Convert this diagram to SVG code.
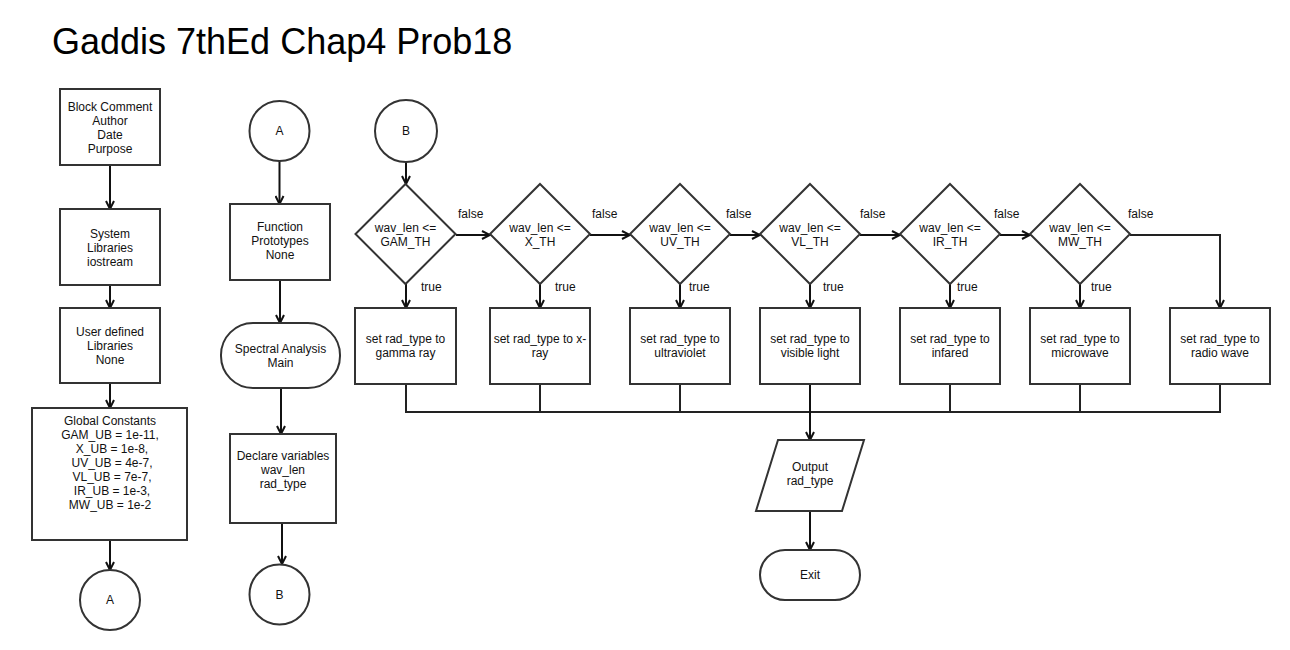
<svg xmlns="http://www.w3.org/2000/svg" width="1290" height="650" viewBox="0 0 1290 650">
<style>
.s{fill:#fff;stroke:#333;stroke-width:2}
.t{font-family:"Liberation Sans",Arial,sans-serif;font-size:12px;fill:#111;text-anchor:middle}
.l{font-family:"Liberation Sans",Arial,sans-serif;font-size:12px;fill:#111}
.c{fill:none;stroke:#111;stroke-width:2}
.m{fill:none;stroke:#222;stroke-width:2}
</style>
<defs>
<marker id="arr" viewBox="0 0 10 10" refX="9" refY="5" markerWidth="10" markerHeight="10" markerUnits="userSpaceOnUse" orient="auto">
<path d="M1,1 L9,5 L1,9" fill="none" stroke="#111" stroke-width="2"/>
</marker>
</defs>
<rect width="1290" height="650" fill="#fff"/>
<text x="52" y="54" font-family="'Liberation Sans',Arial,sans-serif" font-size="36" fill="#000">Gaddis 7thEd Chap4 Prob18</text>

<g id="connectors">
<line class="c" x1="110" y1="165" x2="110" y2="209" marker-end="url(#arr)"/>
<line class="c" x1="110" y1="285" x2="110" y2="308" marker-end="url(#arr)"/>
<line class="c" x1="110" y1="383" x2="110" y2="408" marker-end="url(#arr)"/>
<line class="c" x1="110" y1="540" x2="110" y2="570" marker-end="url(#arr)"/>
<line class="c" x1="279.5" y1="161" x2="279.5" y2="204" marker-end="url(#arr)"/>
<line class="c" x1="280" y1="280" x2="280" y2="323" marker-end="url(#arr)"/>
<line class="c" x1="281" y1="388" x2="281" y2="434" marker-end="url(#arr)"/>
<line class="c" x1="282" y1="523" x2="282" y2="564" marker-end="url(#arr)"/>
<line class="c" x1="406" y1="162" x2="406" y2="184" marker-end="url(#arr)"/>
<line class="c" x1="456" y1="235" x2="490" y2="235" marker-end="url(#arr)"/>
<line class="c" x1="590" y1="235" x2="630" y2="235" marker-end="url(#arr)"/>
<line class="c" x1="730" y1="235" x2="760" y2="235" marker-end="url(#arr)"/>
<line class="c" x1="860" y1="235" x2="900" y2="235" marker-end="url(#arr)"/>
<line class="c" x1="1000" y1="235" x2="1030" y2="235" marker-end="url(#arr)"/>
<polyline class="m" points="1130,235 1220,235 1220,308" marker-end="url(#arr)"/>
<line class="c" x1="406" y1="284" x2="406" y2="308" marker-end="url(#arr)"/>
<line class="c" x1="540" y1="284" x2="540" y2="308" marker-end="url(#arr)"/>
<line class="c" x1="680" y1="284" x2="680" y2="308" marker-end="url(#arr)"/>
<line class="c" x1="810" y1="284" x2="810" y2="308" marker-end="url(#arr)"/>
<line class="c" x1="950" y1="284" x2="950" y2="308" marker-end="url(#arr)"/>
<line class="c" x1="1080" y1="284" x2="1080" y2="308" marker-end="url(#arr)"/>
<polyline class="m" points="406,384 406,412 1220,412 1220,384"/>
<line class="m" x1="540" y1="384" x2="540" y2="412"/>
<line class="m" x1="680" y1="384" x2="680" y2="412"/>
<line class="m" x1="950" y1="384" x2="950" y2="412"/>
<line class="m" x1="1080" y1="384" x2="1080" y2="412"/>
<line class="c" x1="810" y1="384" x2="810" y2="440" marker-end="url(#arr)"/>
<line class="c" x1="810" y1="511" x2="810" y2="550" marker-end="url(#arr)"/>
</g>

<g id="block-comment"><rect class="s" x="60" y="89" width="100" height="76"/>
<text class="t" x="110" y="111">Block Comment</text><text class="t" x="110" y="125">Author</text><text class="t" x="110" y="139">Date</text><text class="t" x="110" y="153">Purpose</text></g>
<g id="system-libraries"><rect class="s" x="60" y="209" width="100" height="76"/>
<text class="t" x="110" y="238">System</text><text class="t" x="110" y="252">Libraries</text><text class="t" x="110" y="266">iostream</text></g>
<g id="user-libraries"><rect class="s" x="60" y="308" width="100" height="75"/>
<text class="t" x="110" y="336">User defined</text><text class="t" x="110" y="350">Libraries</text><text class="t" x="110" y="364">None</text></g>
<g id="global-constants"><rect class="s" x="32" y="408" width="155" height="132"/>
<text class="t" x="110" y="425">Global Constants</text>
<text class="t" x="110" y="439">GAM_UB = 1e-11,</text>
<text class="t" x="112" y="453">X_UB = 1e-8,</text>
<text class="t" x="112" y="467">UV_UB = 4e-7,</text>
<text class="t" x="112" y="481">VL_UB = 7e-7,</text>
<text class="t" x="112" y="495">IR_UB = 1e-3,</text>
<text class="t" x="110" y="509">MW_UB = 1e-2</text></g>
<g id="connector-a-out"><circle class="s" cx="110" cy="600" r="30"/><text class="t" x="110" y="604">A</text></g>

<g id="connector-a-in"><circle class="s" cx="279.5" cy="131" r="30"/><text class="t" x="279.5" y="135">A</text></g>
<g id="function-prototypes"><rect class="s" x="230" y="204" width="100" height="76"/>
<text class="t" x="280" y="231">Function</text><text class="t" x="280" y="245">Prototypes</text><text class="t" x="280" y="259">None</text></g>
<g id="main"><rect class="s" x="221" y="323" width="119" height="65" rx="32" ry="32"/>
<text class="t" x="280.5" y="353">Spectral Analysis</text><text class="t" x="280.5" y="367">Main</text></g>
<g id="declare"><rect class="s" x="230" y="434" width="106" height="89"/>
<text class="t" x="283" y="460">Declare variables</text><text class="t" x="283" y="474">wav_len</text><text class="t" x="283" y="488">rad_type</text></g>
<g id="connector-b-out"><circle class="s" cx="279.5" cy="594.5" r="30"/><text class="t" x="279.5" y="599">B</text></g>

<g id="connector-b-in"><circle class="s" cx="406" cy="131" r="31"/><text class="t" x="406" y="135">B</text></g>

<g id="dec-gam"><polygon class="s" points="405.5,184 455.5,234 405.5,284 355.5,234"/>
<text class="t" x="405.5" y="232">wav_len &lt;=</text><text class="t" x="405.5" y="246">GAM_TH</text></g>
<g id="dec-x"><polygon class="s" points="540,184 590,234 540,284 490,234"/>
<text class="t" x="540" y="232">wav_len &lt;=</text><text class="t" x="540" y="246">X_TH</text></g>
<g id="dec-uv"><polygon class="s" points="680,184 730,234 680,284 630,234"/>
<text class="t" x="680" y="232">wav_len &lt;=</text><text class="t" x="680" y="246">UV_TH</text></g>
<g id="dec-vl"><polygon class="s" points="810,184 860,234 810,284 760,234"/>
<text class="t" x="810" y="232">wav_len &lt;=</text><text class="t" x="810" y="246">VL_TH</text></g>
<g id="dec-ir"><polygon class="s" points="950,184 1000,234 950,284 900,234"/>
<text class="t" x="950" y="232">wav_len &lt;=</text><text class="t" x="950" y="246">IR_TH</text></g>
<g id="dec-mw"><polygon class="s" points="1080,184 1130,234 1080,284 1030,234"/>
<text class="t" x="1080" y="232">wav_len &lt;=</text><text class="t" x="1080" y="246">MW_TH</text></g>

<g id="labels">
<text class="l" x="458" y="218">false</text>
<text class="l" x="592" y="218">false</text>
<text class="l" x="726" y="218">false</text>
<text class="l" x="860" y="218">false</text>
<text class="l" x="994" y="218">false</text>
<text class="l" x="1128" y="218">false</text>
<text class="l" x="421" y="291">true</text>
<text class="l" x="555" y="291">true</text>
<text class="l" x="689" y="291">true</text>
<text class="l" x="823" y="291">true</text>
<text class="l" x="957" y="291">true</text>
<text class="l" x="1091" y="291">true</text>
</g>

<g id="set-gamma"><rect class="s" x="355" y="308" width="101" height="76"/>
<text class="t" x="405.5" y="343">set rad_type to</text><text class="t" x="405.5" y="357">gamma ray</text></g>
<g id="set-xray"><rect class="s" x="490" y="308" width="100" height="76"/>
<text class="t" x="540" y="343">set rad_type to x-</text><text class="t" x="540" y="357">ray</text></g>
<g id="set-uv"><rect class="s" x="630" y="308" width="100" height="76"/>
<text class="t" x="680" y="343">set rad_type to</text><text class="t" x="680" y="357">ultraviolet</text></g>
<g id="set-vl"><rect class="s" x="760" y="308" width="100" height="76"/>
<text class="t" x="810" y="343">set rad_type to</text><text class="t" x="810" y="357">visible light</text></g>
<g id="set-ir"><rect class="s" x="900" y="308" width="100" height="76"/>
<text class="t" x="950" y="343">set rad_type to</text><text class="t" x="950" y="357">infared</text></g>
<g id="set-mw"><rect class="s" x="1030" y="308" width="100" height="76"/>
<text class="t" x="1080" y="343">set rad_type to</text><text class="t" x="1080" y="357">microwave</text></g>
<g id="set-radio"><rect class="s" x="1170" y="308" width="100" height="76"/>
<text class="t" x="1220" y="343">set rad_type to</text><text class="t" x="1220" y="357">radio wave</text></g>

<g id="output"><polygon class="s" points="778,440 864,440 842,511 756,511"/>
<text class="t" x="810" y="471">Output</text><text class="t" x="810" y="485">rad_type</text></g>
<g id="exit"><rect class="s" x="760" y="550" width="100" height="50" rx="25" ry="25"/>
<text class="t" x="810" y="579">Exit</text></g>
</svg>
